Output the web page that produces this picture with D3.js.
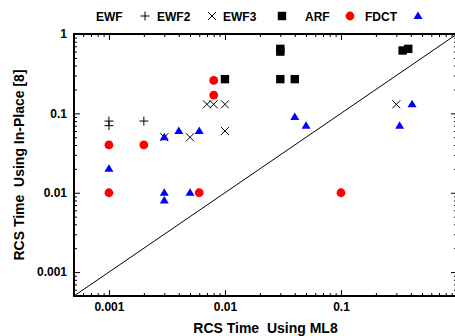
<!DOCTYPE html>
<html>
<head>
<meta charset="utf-8">
<script src="https://cdn.jsdelivr.net/npm/d3@7"></script>
<style>
  body { margin: 0; background: #fff; }
  text { font-family: "Liberation Sans", Arial, sans-serif; font-weight: bold; white-space: pre; }
</style>
</head>
<body>
<div id="chart"></div>
<script>
// data (x = ML8 time, y = In-Place time)
const ewf = [[0.001, 0.08], [0.001, 0.07], [0.002, 0.08]];
const ewf2 = [[0.007, 0.13], [0.008, 0.13], [0.01, 0.13], [0.01, 0.06],
              [0.003, 0.05], [0.005, 0.05], [0.3, 0.13]];
const ewf3 = [[0.01, 0.27], [0.03, 0.27], [0.04, 0.27], [0.03, 0.65],
              [0.03, 0.6], [0.34, 0.62], [0.38, 0.65]];
const arf = [[0.001, 0.04], [0.002, 0.04], [0.008, 0.26], [0.008, 0.17],
             [0.001, 0.01], [0.006, 0.01], [0.1, 0.01]];
const fdct = [[0.001, 0.02], [0.003, 0.05], [0.003, 0.01], [0.003, 0.008],
              [0.004, 0.06], [0.005, 0.01], [0.006, 0.06], [0.04, 0.09],
              [0.05, 0.07], [0.32, 0.07], [0.41, 0.13]];
const xTicks = [0.001, 0.01, 0.1];      // "1" falls off the right edge
const yTicks = [0.001, 0.01, 0.1, 1];
const seriesNames = ["EWF", "EWF2", "EWF3", "ARF", "FDCT"];

const width = 455, height = 336;
const margin = {top: 34, right: -2, bottom: 40, left: 74};

const svg = d3.select("#chart").append("svg")
  .attr("width", width)
  .attr("height", height);

const x = d3.scaleLog().domain([0.0005, 1]).range([margin.left, width - margin.right]);
const y = d3.scaleLog().domain([0.0005, 1]).range([height - margin.bottom, margin.top]);

// minor ticks 2..9 per decade
const minorTicks = [];
[0.0001, 0.001, 0.01, 0.1].forEach(d => {
  for (let k = 2; k <= 9; k++) {
    const v = d * k;
    if (v >= 0.0005 && v < 1) minorTicks.push(v);
  }
});

const fmt = d => String(d);

function addAxis(axisFn, scale, transform, ticks, size, labels, pad) {
  const g = svg.append("g")
    .attr("transform", transform)
    .call(axisFn(scale).tickValues(ticks).tickSize(-size).tickSizeOuter(0)
      .tickPadding(pad || 0).tickFormat(labels ? fmt : ""));
  g.select(".domain").remove();
  g.selectAll("line").attr("stroke", "#000").attr("stroke-width", 1);
  g.selectAll("text").attr("font-size", 12).attr("fill", "#000");
  return g;
}

const bottom = height - margin.bottom, right = width - margin.right;
addAxis(d3.axisBottom, x, `translate(0,${bottom})`, xTicks, 6, true, 6);
addAxis(d3.axisBottom, x, `translate(0,${bottom})`, minorTicks, 3, false);
addAxis(d3.axisTop, x, `translate(0,${margin.top})`, yTicks, 6, false);
addAxis(d3.axisTop, x, `translate(0,${margin.top})`, minorTicks, 3, false);
addAxis(d3.axisLeft, y, `translate(${margin.left},0)`, yTicks, 6, true, 7);
addAxis(d3.axisLeft, y, `translate(${margin.left},0)`, minorTicks, 3, false);
addAxis(d3.axisRight, y, `translate(${right},0)`, yTicks, 6, false);
addAxis(d3.axisRight, y, `translate(${right},0)`, minorTicks, 3, false);

// border
svg.append("rect")
  .attr("x", margin.left).attr("y", margin.top)
  .attr("width", right - margin.left).attr("height", bottom - margin.top)
  .attr("fill", "none").attr("stroke", "#000").attr("stroke-width", 2);

// y = x reference line
svg.append("line")
  .attr("x1", x(0.0005)).attr("y1", y(0.0005))
  .attr("x2", x(1)).attr("y2", y(1))
  .attr("stroke", "#000").attr("stroke-width", 1);

// marker painters
const drawers = {
  EWF: (g, cx, cy) => g.append("path")
    .attr("d", `M${cx - 4.5},${cy}h9M${cx},${cy - 4.5}v9`)
    .attr("stroke", "#000").attr("stroke-width", 1).attr("fill", "none"),
  EWF2: (g, cx, cy) => g.append("path")
    .attr("d", `M${cx - 4},${cy - 4}l8,8M${cx - 4},${cy + 4}l8,-8`)
    .attr("stroke", "#000").attr("stroke-width", 1).attr("fill", "none"),
  EWF3: (g, cx, cy) => g.append("rect")
    .attr("x", cx - 4.2).attr("y", cy - 4.2).attr("width", 8.4).attr("height", 8.4)
    .attr("fill", "#000"),
  ARF: (g, cx, cy) => g.append("circle")
    .attr("cx", cx).attr("cy", cy).attr("r", 4.4).attr("fill", "#ff0000"),
  FDCT: (g, cx, cy) => g.append("path")
    .attr("d", `M${cx},${cy - 4.5}L${cx + 4.5},${cy + 3}L${cx - 4.5},${cy + 3}Z`)
    .attr("fill", "#0000ff")
};

const series = {EWF: ewf, EWF2: ewf2, EWF3: ewf3, ARF: arf, FDCT: fdct};
const marks = svg.append("g");
seriesNames.forEach(name => {
  series[name].forEach(d => drawers[name](marks, x(d[0]), y(d[1])));
});

// legend: title then symbol
const legendText = [96, 157, 223, 305, 365];
const legendSym = [145, 212, 282, 350, 418];
const legY = 16;
const leg = svg.append("g");
seriesNames.forEach((name, i) => {
  leg.append("text")
    .attr("x", legendText[i]).attr("y", legY + 4.5)
    .attr("font-size", 12).text(name);
  drawers[name](leg, legendSym[i], legY);
});

// axis titles
svg.append("text")
  .attr("x", (margin.left + right) / 2).attr("y", 333)
  .attr("text-anchor", "middle").attr("font-size", 14)
  .text("RCS Time  Using ML8");
svg.append("text")
  .attr("transform", `translate(24,${(margin.top + bottom) / 2}) rotate(-90)`)
  .attr("text-anchor", "middle").attr("font-size", 14)
  .text("RCS Time  Using In-Place [8]");
</script>
</body>
</html>
